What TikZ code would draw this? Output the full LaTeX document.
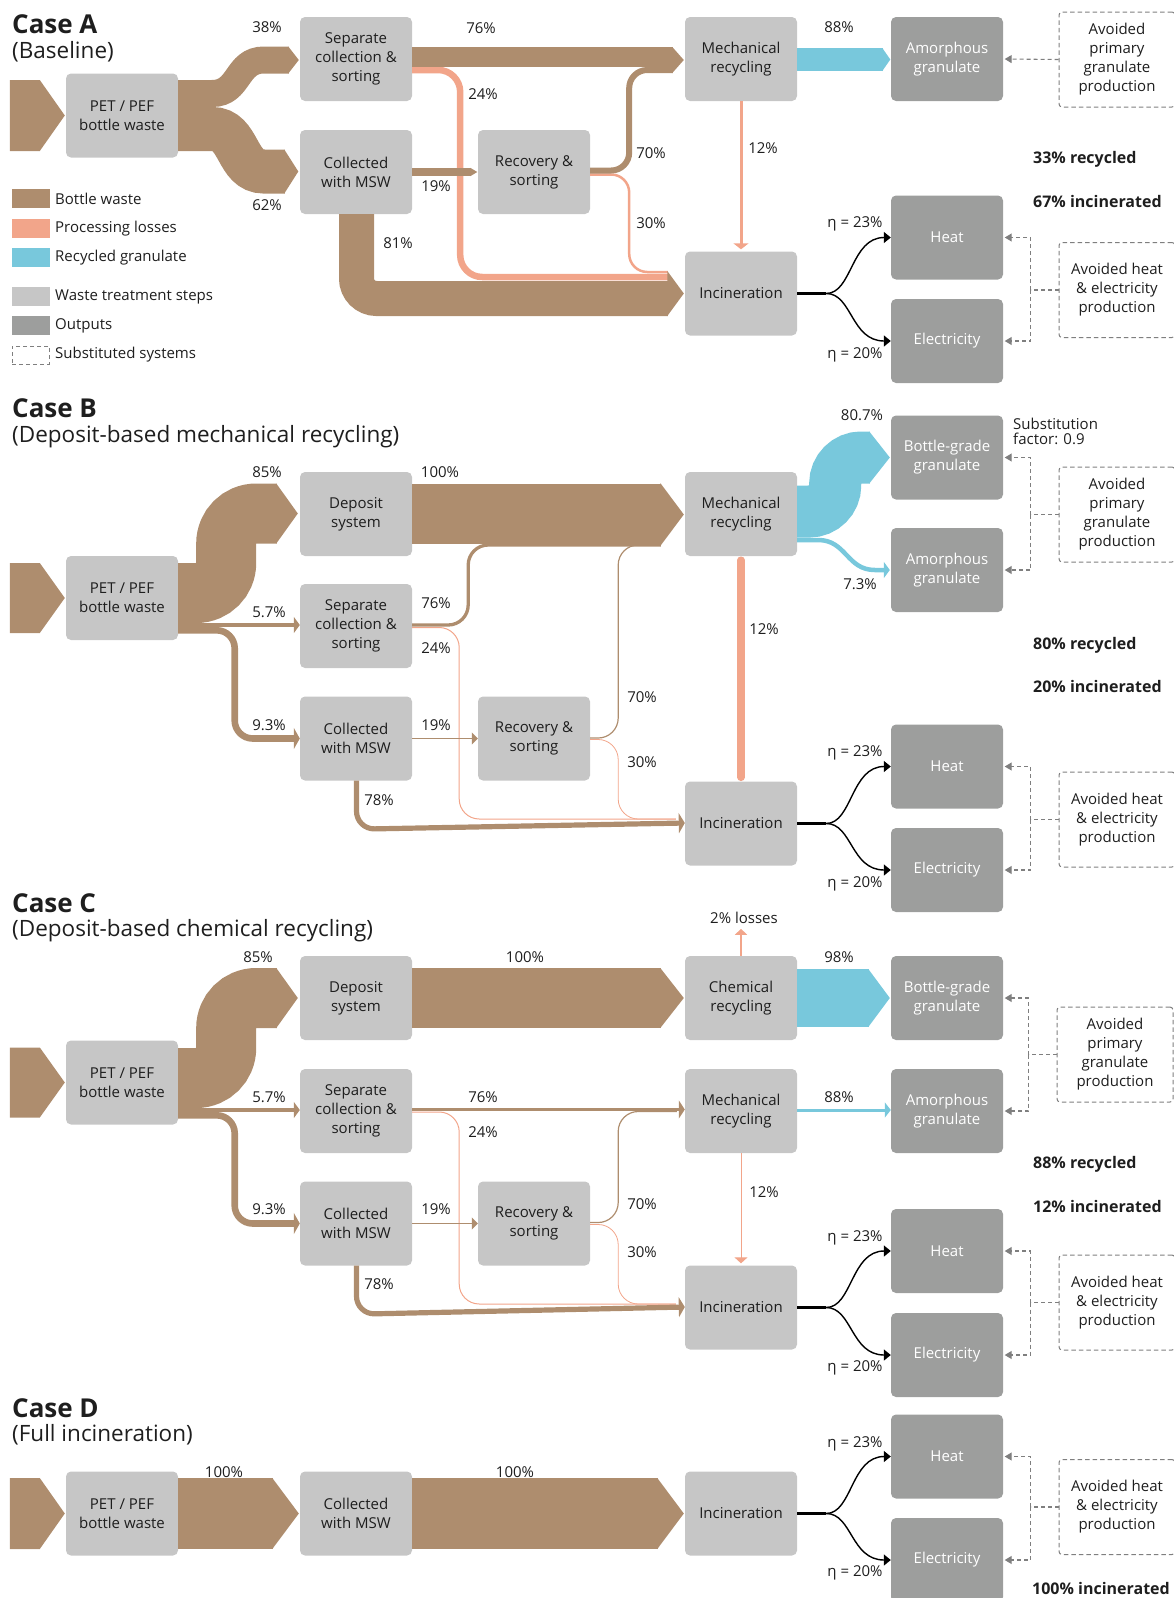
\documentclass[tikz,border=0pt]{standalone}
\usepackage{fontspec}
\setmainfont{Open Sans}
\usepackage{tikz}
\usetikzlibrary{arrows.meta, positioning, calc}

\definecolor{cBottle}{HTML}{AE8D6E}
\definecolor{cLoss}{HTML}{F2A58A}
\definecolor{cGran}{HTML}{78C8DC}
\definecolor{cStep}{HTML}{C6C6C6}
\definecolor{cOut}{HTML}{9D9E9D}
\definecolor{cDash}{HTML}{7F7F7F}
\definecolor{cInk}{HTML}{1E1E1E}

% sankey arrow head: base point, half width, depth, colour
\newcommand{\chev}[4]{\fill[#4] ($(#1)+(-0.5,-#2)$) -- ($(#1)+(#3,0)$) -- ($(#1)+(-0.5,#2)$) -- cycle;}
% incoming waste arrow in front of a node
\newcommand{\feed}[2]{\fill[cBottle] ($(#1.west)+(-56,-#2)$) -- ++(30,0) -- ($(#1.west)+(-1,0)$) -- ($(#1.west)+(-26,#2)$) -- ++(-30,0) -- cycle;}
% incineration to heat and electricity
\newcommand{\energy}[3]{%
  \draw[black, line width=3pt] (#1.east) -- ++(29,0) coordinate (#1x);
  \draw[heatline] (#1x) .. controls +(26,0) and +(-40,0) .. (#2.west);
  \draw[heatline] (#1x) .. controls +(26,0) and +(-40,0) .. (#3.west);}
% substituted system pointing at two outputs
\newcommand{\avoided}[3]{%
  \draw[subline] (#1.west) -- ++(-28,0) coordinate (#1x);
  \draw[subline, subtip] (#1x) |- (#2.east);
  \draw[subline, subtip] (#1x) |- (#3.east);}

\tikzset{
  proc/.style={rectangle, rounded corners=5pt, fill=cStep, minimum width=112pt, minimum height=84pt, inner sep=0pt, align=center, text=cInk, font=\fontsize{15}{19}\selectfont},
  outbox/.style={proc, fill=cOut, text=white},
  subst/.style={rectangle, rounded corners=3pt, draw=cDash, line width=1pt, dash pattern=on 4.5pt off 3pt, minimum width=116pt, minimum height=95pt, inner sep=0pt, align=center, text=cInk, font=\fontsize{15}{19}\selectfont},
  lbl/.style={inner sep=0pt, text=cInk, font=\fontsize{15}{19}\selectfont},
  share/.style={inner sep=0pt, anchor=west, text=cInk, font=\fontsize{16}{19}\selectfont\bfseries},
  casehead/.style={inner sep=0pt, anchor=base west, text=cInk, font=\fontsize{26}{30}\selectfont\bfseries},
  casesub/.style={inner sep=0pt, anchor=base west, text=cInk, font=\fontsize{22.5}{26}\selectfont},
  swatch/.style={rectangle, minimum width=38pt, minimum height=19pt, inner sep=0pt},
  band/.style={draw=cBottle, line width=#1pt},
  smalltip/.style={-{Triangle[length=6pt, width=#1]}}, smalltip/.default=15pt,
  heatline/.style={draw=black, line width=1.4pt, -{Triangle[length=7pt, width=11pt]}},
  subline/.style={draw=cDash, line width=1.1pt, dash pattern=on 4pt off 3pt},
  subtip/.style={-{Triangle[length=7pt, width=8pt]}, shorten >=1.5pt},
}

\begin{document}
\begin{tikzpicture}[x=1pt, y=-1pt, node distance=100pt, on grid]
\useasboundingbox (0,0) rectangle (1173,1598);

%%% Case A
\node[casehead] (hA) at (12,33) {Case A};
\node[casesub] (sA) at (12,58) {(Baseline)};

\node[proc] (pA) at (122,115.5) {PET / PEF\\bottle waste};
\node[proc] (sepA) at (356,59) {Separate\\collection \&\\sorting};
\node[proc, below=113pt of sepA] (colA) {Collected\\with MSW};
\node[proc, right=178pt of colA] (recA) {Recovery \&\\sorting};
\node[proc, right=385pt of sepA] (mechA) {Mechanical\\recycling};
\node[proc, below=234.5pt of mechA] (incA) {Incineration};
\node[outbox, right=206pt of mechA] (amoA) {Amorphous\\granulate};
\node[outbox, above right=56pt and 206pt of incA] (heatA) {Heat};
\node[outbox, below right=47.5pt and 206pt of incA] (elecA) {Electricity};
\node[subst] (avA) at (1117,59.5) {Avoided\\primary\\granulate\\production};
\node[subst] (aveA) at (1117,290) {Avoided heat\\\& electricity\\production};

% legend
\node[swatch, fill=cBottle] (k1) at (30.5,198.5) {};
\node[lbl, anchor=west] (k1t) at (55,198.5) {Bottle waste};
\node[swatch, fill=cLoss] (k2) at (30.5,228.5) {};
\node[lbl, anchor=west] (k2t) at (55,228.5) {Processing losses};
\node[swatch, fill=cGran] (k3) at (30.5,257.5) {};
\node[lbl, anchor=west] (k3t) at (55,257.5) {Recycled granulate};
\node[swatch, fill=cStep] (k4) at (30.5,296.5) {};
\node[lbl, anchor=west] (k4t) at (55,296.5) {Waste treatment steps};
\node[swatch, fill=cOut] (k5) at (30.5,325.5) {};
\node[lbl, anchor=west] (k5t) at (55,325.5) {Outputs};
\node[swatch, draw=cDash, line width=1pt, dash pattern=on 4pt off 3pt, minimum width=37pt, minimum height=18pt] (k6) at (30.5,355) {};
\node[lbl, anchor=west] (k6t) at (55,355) {Substituted systems};

\feed{pA}{35.5}
\draw[band=27] ($(pA.east)+(0,-22)$) -- ++(34,0) .. controls +(28,0) and +(-28,0) .. ($(sepA.west)+(-36,1)$) -- ($(sepA.west)+(-11,1)$) coordinate (hA1);
\chev{hA1}{13.5}{10}{cBottle}
\draw[band=44] ($(pA.east)+(0,13.5)$) -- ++(34,0) .. controls +(28,0) and +(-28,0) .. ($(colA.west)+(-36,-0.5)$) -- ($(colA.west)+(-15,-0.5)$) coordinate (hA2);
\chev{hA2}{22}{13.5}{cBottle}
\draw[band=6.5, draw=cLoss, rounded corners=22pt] ($(sepA.east)+(0,11)$) -| ($(sepA.east)+(48,218)$) -- ($(incA.west)+(-17,-16.5)$);
\draw[band=2.5, draw=cLoss, rounded corners=18pt] ($(recA.east)+(0,2.5)$) -| ($(recA.east)+(39,100)$) -- ($(incA.west)+(-17,-21.5)$);
\draw[band=20] ($(sepA.east)+(0,-2)$) -- ($(mechA.west)+(-12,-2)$);
\draw[band=6, rounded corners=18pt] ($(recA.east)+(0,-1.5)$) -| ($(recA.east)+(39,-102)$) -- ($(mechA.west)+(-12,11)$);
\coordinate (hA3) at ($(mechA.west)+(-12,1)$);
\chev{hA3}{13}{11}{cBottle}
\draw[band=8.4] (colA.east) -- ($(recA.west)+(-7,0)$) coordinate (hA4);
\chev{hA4}{4.2}{6.5}{cBottle}
\draw[band=35, rounded corners=20pt] ($(colA.south)+(0.5,0)$) |- ($(incA.west)+(-17,5)$);
\coordinate (hA5) at ($(incA.west)+(-17,0)$);
\chev{hA5}{22.5}{16}{cBottle}
\draw[band=23, draw=cGran] ($(mechA.east)+(0,0.5)$) -- ($(amoA.west)+(-8,0.5)$) coordinate (hA6);
\chev{hA6}{11.5}{7.5}{cGran}
\draw[cLoss, line width=3pt, smalltip] (mechA.south) -- ($(incA.north)+(0,-2)$);
\energy{incA}{heatA}{elecA}
\draw[subline, subtip] (avA.west) -- (amoA.east);
\avoided{aveA}{heatA}{elecA}

\node[lbl] (tA1) at (267,27) {38\%};
\node[lbl] (tA2) at (267,205) {62\%};
\node[lbl] (tA3) at (481,28) {76\%};
\node[lbl] (tA4) at (483,94) {24\%};
\node[lbl] (tA5) at (436,186) {19\%};
\node[lbl] (tA6) at (398,243) {81\%};
\node[lbl] (tA7) at (651,153) {70\%};
\node[lbl] (tA8) at (651,223) {30\%};
\node[lbl] (tA9) at (763,148) {12\%};
\node[lbl] (tA10) at (839,27) {88\%};
\node[lbl] (tA11) at (855,224) {η = 23\%};
\node[lbl] (tA12) at (855,355) {η = 20\%};
\node[share] (rA1) at (1033,159) {33\% recycled};
\node[share] (rA2) at (1033,201) {67\% incinerated};

%%% Case B
\node[casehead] (hB) at (12,417) {Case B};
\node[casesub] (sB) at (12,442) {(Deposit-based mechanical recycling)};

\node[proc] (pB) at (122,598) {PET / PEF\\bottle waste};
\node[proc] (depB) at (356,514) {Deposit\\system};
\node[proc, below=112pt of depB] (sepB) {Separate\\collection \&\\sorting};
\node[proc, below=112.5pt of sepB] (colB) {Collected\\with MSW};
\node[proc, right=178pt of colB] (recB) {Recovery \&\\sorting};
\node[proc, right=385pt of depB] (mechB) {Mechanical\\recycling};
\node[proc, below=309.5pt of mechB] (incB) {Incineration};
\node[outbox, above right=56.5pt and 206pt of mechB] (botB) {Bottle-grade\\granulate};
\node[outbox, below right=56pt and 206pt of mechB] (amoB) {Amorphous\\granulate};
\node[outbox, above right=57pt and 206pt of incB] (heatB) {Heat};
\node[outbox, below right=46.5pt and 206pt of incB] (elecB) {Electricity};
\node[subst] (avB) at (1117,514.5) {Avoided\\primary\\granulate\\production};
\node[subst] (aveB) at (1117,819.5) {Avoided heat\\\& electricity\\production};
\node[lbl, anchor=west, align=left, font=\fontsize{15}{14.5}\selectfont] (sfB) at (1013,431.5) {Substitution\\factor: 0.9};

\feed{pB}{35}
\draw[band=60, rounded corners=30pt] ($(pB.east)+(0,-5)$) -- ++(48,0) |- ($(depB.west)+(-23,-0.5)$) coordinate (hB1);
\chev{hB1}{30}{21}{cBottle}
\draw[cBottle, line width=4pt, smalltip=16pt] ($(pB.east)+(0,27)$) -- ($(sepB.west)+(0,-1)$);
\draw[cBottle, line width=6.6pt, rounded corners=18pt, smalltip=21pt] ($(pB.east)+(0,32.3)$) -- ++(56.5,0) |- (colB.west);
\draw[cLoss, line width=1pt, rounded corners=20pt] ($(sepB.east)+(0,1.5)$) -| ($(sepB.east)+(47,193)$) -- ($(incB.west)+(-9,-4.5)$);
\draw[cLoss, line width=0.8pt, rounded corners=20pt] ($(recB.east)+(0,1)$) -| ($(recB.east)+(28,80.5)$) -- ($(incB.west)+(-9,-4.5)$);
\draw[band=60] ($(depB.east)+(0,-0.5)$) -- ($(mechB.west)+(-24,-0.5)$);
\draw[cBottle, line width=3.3pt, rounded corners=20pt] ($(sepB.east)+(0,-1)$) -| ($(sepB.east)+(56,-81)$) -- ($(mechB.west)+(-24,31)$);
\draw[cBottle, line width=1.2pt, rounded corners=20pt] ($(recB.east)+(0,-0.5)$) -| ($(recB.east)+(28,-193.5)$) -- ($(mechB.west)+(-24,31)$);
\coordinate (hB2) at ($(mechB.west)+(-24,0.5)$);
\chev{hB2}{31.5}{23}{cBottle}
\draw[cBottle, line width=1.3pt, smalltip=12pt] (colB.east) -- (recB.west);
\draw[cBottle, line width=5.2pt, rounded corners=18pt, smalltip=20pt] ($(colB.south)+(0.5,0)$) -- ++(0,48.5) -- ($(incB.west)+(0,-0.5)$);
\draw[band=52, draw=cGran, rounded corners=26pt] ($(mechB.east)+(0,-2.5)$) -- ++(38,0) |- ($(botB.west)+(-21,0)$) coordinate (hB3);
\chev{hB3}{26}{20}{cGran}
\draw[cGran, line width=4.5pt, smalltip=16pt] ($(mechB.east)+(0,26)$) -- ++(21,0) .. controls +(28,0) and +(-28,0) .. ($(amoB.west)+(-16,0)$) -- ($(amoB.west)+(-1,0)$);
\draw[cLoss, line width=7.5pt, line cap=round] ($(mechB.south)+(0,4)$) -- ($(incB.north)+(0,-4)$);
\energy{incB}{heatB}{elecB}
\avoided{avB}{botB}{amoB}
\avoided{aveB}{heatB}{elecB}

\node[lbl] (tB1) at (267,472) {85\%};
\node[lbl] (tB2) at (440,472) {100\%};
\node[lbl] (tB3) at (269,612) {5.7\%};
\node[lbl] (tB4) at (436,603) {76\%};
\node[lbl] (tB5) at (436,648) {24\%};
\node[lbl] (tB6) at (269,725) {9.3\%};
\node[lbl] (tB7) at (436,725) {19\%};
\node[lbl] (tB8) at (379,800) {78\%};
\node[lbl] (tB9) at (642,697) {70\%};
\node[lbl] (tB10) at (642,762) {30\%};
\node[lbl] (tB11) at (764,629) {12\%};
\node[lbl] (tB12) at (862,415) {80.7\%};
\node[lbl] (tB13) at (860,584) {7.3\%};
\node[lbl] (tB14) at (855,753) {η = 23\%};
\node[lbl] (tB15) at (855,884) {η = 20\%};
\node[share] (rB1) at (1033,645) {80\% recycled};
\node[share] (rB2) at (1033,686) {20\% incinerated};

%%% Case C
\node[casehead] (hC) at (12,912) {Case C};
\node[casesub] (sC) at (12,936) {(Deposit-based chemical recycling)};

\node[proc] (pC) at (122,1082.5) {PET / PEF\\bottle waste};
\node[proc] (depC) at (356,998) {Deposit\\system};
\node[proc, below=113pt of depC] (sepC) {Separate\\collection \&\\sorting};
\node[proc, below=112.5pt of sepC] (colC) {Collected\\with MSW};
\node[proc, right=178pt of colC] (recC) {Recovery \&\\sorting};
\node[proc, right=385pt of depC] (chemC) {Chemical\\recycling};
\node[proc, right=385pt of sepC] (mechC) {Mechanical\\recycling};
\node[proc, below=196.5pt of mechC] (incC) {Incineration};
\node[outbox, right=206pt of chemC] (botC) {Bottle-grade\\granulate};
\node[outbox, right=206pt of mechC] (amoC) {Amorphous\\granulate};
\node[outbox, above right=56.5pt and 206pt of incC] (heatC) {Heat};
\node[outbox, below right=47.5pt and 206pt of incC] (elecC) {Electricity};
\node[subst] (avC) at (1115,1054.5) {Avoided\\primary\\granulate\\production};
\node[subst] (aveC) at (1117,1302.5) {Avoided heat\\\& electricity\\production};

\feed{pC}{35}
\draw[band=60, rounded corners=30pt] ($(pC.east)+(0,-4.5)$) -- ++(48,0) |- ($(depC.west)+(-23,0)$) coordinate (hC1);
\chev{hC1}{30}{21}{cBottle}
\draw[cBottle, line width=4pt, smalltip=16pt] ($(pC.east)+(0,27.5)$) -- ($(sepC.west)+(0,-1)$);
\draw[cBottle, line width=6.6pt, rounded corners=18pt, smalltip=21pt] ($(pC.east)+(0,32.8)$) -- ++(56.5,0) |- (colC.west);
\draw[cLoss, line width=1pt, rounded corners=20pt] ($(sepC.east)+(0,1)$) -| ($(sepC.east)+(47,193)$) -- ($(incC.west)+(-9,-3.5)$);
\draw[cLoss, line width=0.8pt, rounded corners=20pt] ($(recC.east)+(0,1)$) -| ($(recC.east)+(28,80.5)$) -- ($(incC.west)+(-9,-3.5)$);
\draw[band=60] (depC.east) -- ($(chemC.west)+(-24,0)$) coordinate (hC2);
\chev{hC2}{30}{23}{cBottle}
\draw[band=58, draw=cGran] (chemC.east) -- ($(botC.west)+(-22,0)$) coordinate (hC3);
\chev{hC3}{29}{21}{cGran}
\draw[cLoss, line width=1.2pt, smalltip=12pt] (chemC.north) -- ($(chemC.north)+(0,-27)$);
\draw[cBottle, line width=3pt, smalltip=18pt] ($(sepC.east)+(0,-1.5)$) -- ($(mechC.west)+(0,-1.5)$);
\draw[cBottle, line width=1.2pt, rounded corners=20pt] ($(recC.east)+(0,-1)$) -| ($(recC.east)+(28,-112)$) -- ($(mechC.west)+(-8,0.5)$);
\draw[cBottle, line width=1.3pt, smalltip=12pt] (colC.east) -- (recC.west);
\draw[cBottle, line width=5.2pt, rounded corners=18pt, smalltip=20pt] ($(colC.south)+(0.5,0)$) -- ++(0,48.5) -- ($(incC.west)+(0,-0.5)$);
\draw[cGran, line width=3pt, smalltip=15pt] ($(mechC.east)+(0,-1)$) -- ($(amoC.west)+(0,-1)$);
\draw[cLoss, line width=1pt, smalltip=13pt] (mechC.south) -- ($(incC.north)+(0,-2)$);
\energy{incC}{heatC}{elecC}
\avoided{avC}{botC}{amoC}
\avoided{aveC}{heatC}{elecC}

\node[lbl] (tC1) at (258,957) {85\%};
\node[lbl] (tC2) at (525,957) {100\%};
\node[lbl] (tC3) at (269,1097) {5.7\%};
\node[lbl] (tC4) at (483,1097) {76\%};
\node[lbl] (tC5) at (483,1132) {24\%};
\node[lbl] (tC6) at (269,1209) {9.3\%};
\node[lbl] (tC7) at (436,1209) {19\%};
\node[lbl] (tC8) at (379,1284) {78\%};
\node[lbl] (tC9) at (642,1204) {70\%};
\node[lbl] (tC10) at (642,1252) {30\%};
\node[lbl] (tC11) at (744,918) {2\% losses};
\node[lbl] (tC12) at (839,957) {98\%};
\node[lbl] (tC13) at (839,1097) {88\%};
\node[lbl] (tC14) at (764,1192) {12\%};
\node[lbl] (tC15) at (855,1238) {η = 23\%};
\node[lbl] (tC16) at (855,1368) {η = 20\%};
\node[share] (rC1) at (1033,1164) {88\% recycled};
\node[share] (rC2) at (1033,1206) {12\% incinerated};

%%% Case D
\node[casehead] (hD) at (12,1417) {Case D};
\node[casesub] (sD) at (12,1441) {(Full incineration)};

\node[proc] (pD) at (122,1513.5) {PET / PEF\\bottle waste};
\node[proc, right=234pt of pD] (colD) {Collected\\with MSW};
\node[proc, right=385pt of colD] (incD) {Incineration};
\node[outbox, above right=57pt and 206pt of incD] (heatD) {Heat};
\node[outbox, below right=46.5pt and 206pt of incD] (elecD) {Electricity};
\node[subst] (aveD) at (1117,1507) {Avoided heat\\\& electricity\\production};

\feed{pD}{35.5}
\draw[band=71] (pD.east) -- ($(colD.west)+(-27,0)$) coordinate (hD1);
\chev{hD1}{35.5}{26}{cBottle}
\draw[band=71] (colD.east) -- ($(incD.west)+(-27,0)$) coordinate (hD2);
\chev{hD2}{35.5}{26}{cBottle}
\energy{incD}{heatD}{elecD}
\avoided{aveD}{heatD}{elecD}

\node[lbl] (tD1) at (224,1472) {100\%};
\node[lbl] (tD2) at (515,1472) {100\%};
\node[lbl] (tD3) at (855,1444) {η = 23\%};
\node[lbl] (tD4) at (855,1573) {η = 20\%};
\node[share] (rD1) at (1032,1588) {100\% incinerated};

\end{tikzpicture}
\end{document}
